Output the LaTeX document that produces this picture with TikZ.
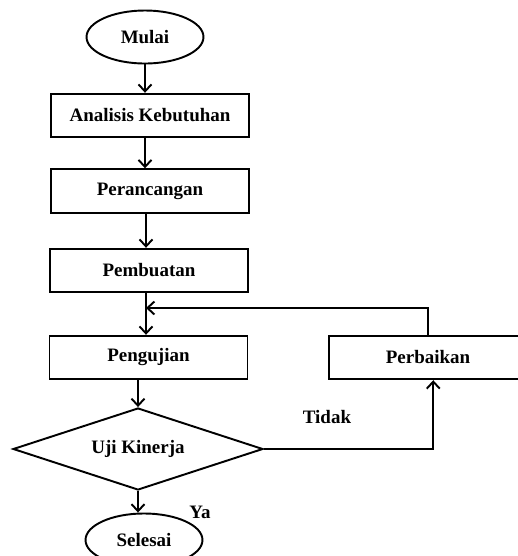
\documentclass[tikz,border=0pt]{standalone}
\usepackage{fontspec}
\setmainfont{Liberation Serif}
\usepackage{tikz}
\usetikzlibrary{arrows.meta,shapes.geometric}

\begin{document}
\begin{tikzpicture}[x=0.02cm,y=-0.02cm,>={Straight Barb[length=1.4mm,width=2.6mm]},
  line width=1.1pt,
  font=\fontsize{10.8}{12}\selectfont\bfseries,
  term/.style={draw,ellipse,minimum width=2.34cm,minimum height=1.06cm,inner sep=0pt},
  proc/.style={draw,rectangle,minimum width=3.96cm,minimum height=0.87cm,inner sep=0pt},
  dec/.style={draw,diamond,aspect=3,minimum width=5cm,minimum height=1.64cm,inner sep=0pt},
  flow/.style={->}]
  \useasboundingbox (0,0) rectangle (518,556);
  % main column
  \node[term] (mulai) at (145,37) {Mulai};
  \node[proc] (analisis) at (150,115.5) {Analisis Kebutuhan};
  \node[proc] (perancangan) at (150,191) {Perancangan};
  \node[proc] (pembuatan) at (149,270.5) {Pembuatan};
  \node[proc] (pengujian) at (148.5,357.5) {Pengujian};
  \node[dec] (uji) at (138,449) {Uji Kinerja};
  \node[term] (selesai) at (144,540) {Selesai};
  % repair branch
  \node[proc] (perbaikan) at (428,357.5) {Perbaikan};
  \coordinate (join) at (146,308);
  \draw[flow] (mulai.south) -- (mulai.south |- analisis.north);
  \draw[flow] (mulai.south |- analisis.south) -- (mulai.south |- perancangan.north);
  \draw[flow] (join |- perancangan.south) -- (join |- pembuatan.north);
  \draw[flow] (join |- pembuatan.south) -- (join |- pengujian.north);
  \draw[flow] (perbaikan.north) |- (join);
  \draw[flow] (uji.north |- pengujian.south) -- (uji.north);
  \draw[flow] (uji.east) -| ([xshift=3]perbaikan.south);
  \draw[flow] (uji.south) -- (uji.south |- selesai.north);
  \node (tidak) at (327,417) {Tidak};
  \node (ya) at (200,512) {Ya};
\end{tikzpicture}
\end{document}
